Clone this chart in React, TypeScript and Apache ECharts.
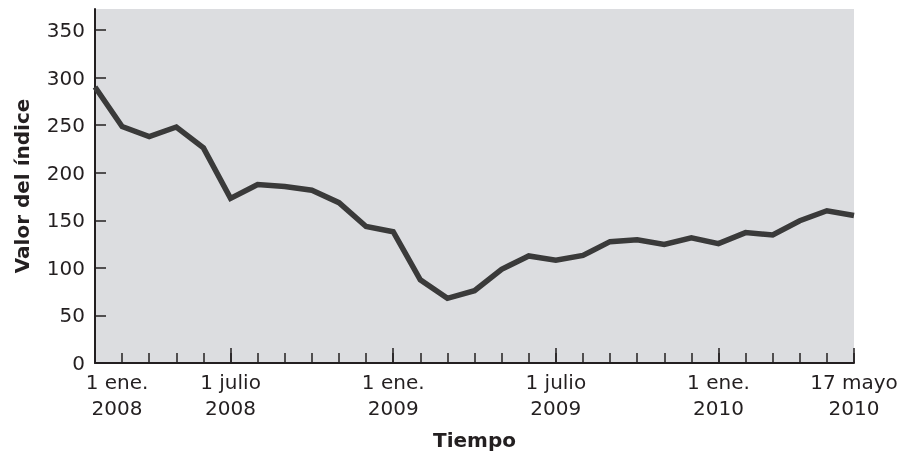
import React, { useEffect, useRef } from "react";
import * as echarts from "echarts";

const periods: string[] = Array.from({ length: 29 }, (_, i) => `P${i}`);
const tickLabels: string[] = [
  "1 ene.\n2008", "", "", "", "", "1 julio\n2008", "", "", "", "", "", "1 ene.\n2009", "", "", "", "", "", "1 julio\n2009", "", "", "", "", "", "1 ene.\n2010", "", "", "", "", "17 mayo\n2010",
];
const indexValues: number[] = [
  290, 248.5, 238, 248, 226, 173, 187.5, 185.5, 181.5, 168.5, 143.5, 138, 87.5, 68, 76, 98.5, 112.5, 108, 113, 127.5, 129.5, 124.5, 131.5, 125.5, 137, 134.5, 149.5, 160, 155,
];
const yMax = 372;

const FONT = "DejaVu Sans";
const TEXT = "#231f20";

export default function App() {
  const ref = useRef<HTMLDivElement>(null);
  useEffect(() => {
    if (!ref.current) return;
    const chart = echarts.init(ref.current, undefined, { renderer: "svg" });
    const isMajor = (i: number) => tickLabels[i] !== "";
    const tokenStyle = { fontFamily: FONT, fontSize: 20, lineHeight: 26, color: TEXT };
    chart.setOption({
      animation: false,
      grid: {
        left: 95, right: 55, top: 9, bottom: 91,
        outerBoundsMode: "none", containLabel: false,
        show: true, backgroundColor: "#dcdde0", borderWidth: 0,
      },
      xAxis: [
        {
          type: "category",
          data: periods,
          boundaryGap: false,
          axisLine: { show: true, lineStyle: { color: TEXT, width: 2 } },
          axisTick: { show: true, inside: true, length: 10, interval: 0, lineStyle: { color: TEXT, width: 1.5 } },
          axisLabel: { show: false },
          splitLine: { show: false },
          name: "Tiempo",
          nameLocation: "middle",
          nameGap: 67,
          nameTextStyle: { fontFamily: FONT, fontWeight: "bold", fontSize: 20, color: TEXT },
        },
        {
          type: "category",
          data: periods,
          boundaryGap: false,
          position: "bottom",
          axisLine: { show: false },
          axisTick: { show: true, inside: true, length: 15, interval: (i: number) => isMajor(i), lineStyle: { color: TEXT, width: 1.5 } },
          axisLabel: {
            show: true,
            interval: (i: number) => isMajor(i),
            formatter: (_v: string, i: number) => {
              const lines = tickLabels[i].split("\n");
              const tag = i === 0 ? "first" : "std";
              return lines.map((l) => `{${tag}|${l}}`).join("\n");
            },
            fontFamily: FONT,
            fontSize: 20,
            lineHeight: 26,
            color: TEXT,
            margin: 6,
            rich: {
              std: { ...tokenStyle },
              first: { ...tokenStyle, padding: [0, 0, 0, 44] },
            },
          },
          splitLine: { show: false },
        },
      ],
      yAxis: {
        type: "value",
        min: 0,
        max: yMax,
        interval: 50,
        axisLine: { show: true, lineStyle: { color: TEXT, width: 2 } },
        axisTick: { show: true, inside: true, length: 11, lineStyle: { color: TEXT, width: 1.5 } },
        axisLabel: { showMaxLabel: false, fontFamily: FONT, fontSize: 20, color: TEXT, margin: 10 },
        splitLine: { show: false },
        name: "Valor del índice",
        nameLocation: "middle",
        nameGap: 63,
        nameRotate: 90,
        nameTextStyle: { fontFamily: FONT, fontWeight: "bold", fontSize: 20, color: TEXT },
      },
      series: [
        {
          type: "line",
          data: indexValues,
          xAxisIndex: 0,
          symbol: "none",
          lineStyle: { color: "#3a3a3a", width: 5.5, join: "miter" },
        },
      ],
    });
    return () => chart.dispose();
  }, []);
  return <div ref={ref} style={{ position: "fixed", left: 0, top: 0, width: 909, height: 454 }} />;
}
